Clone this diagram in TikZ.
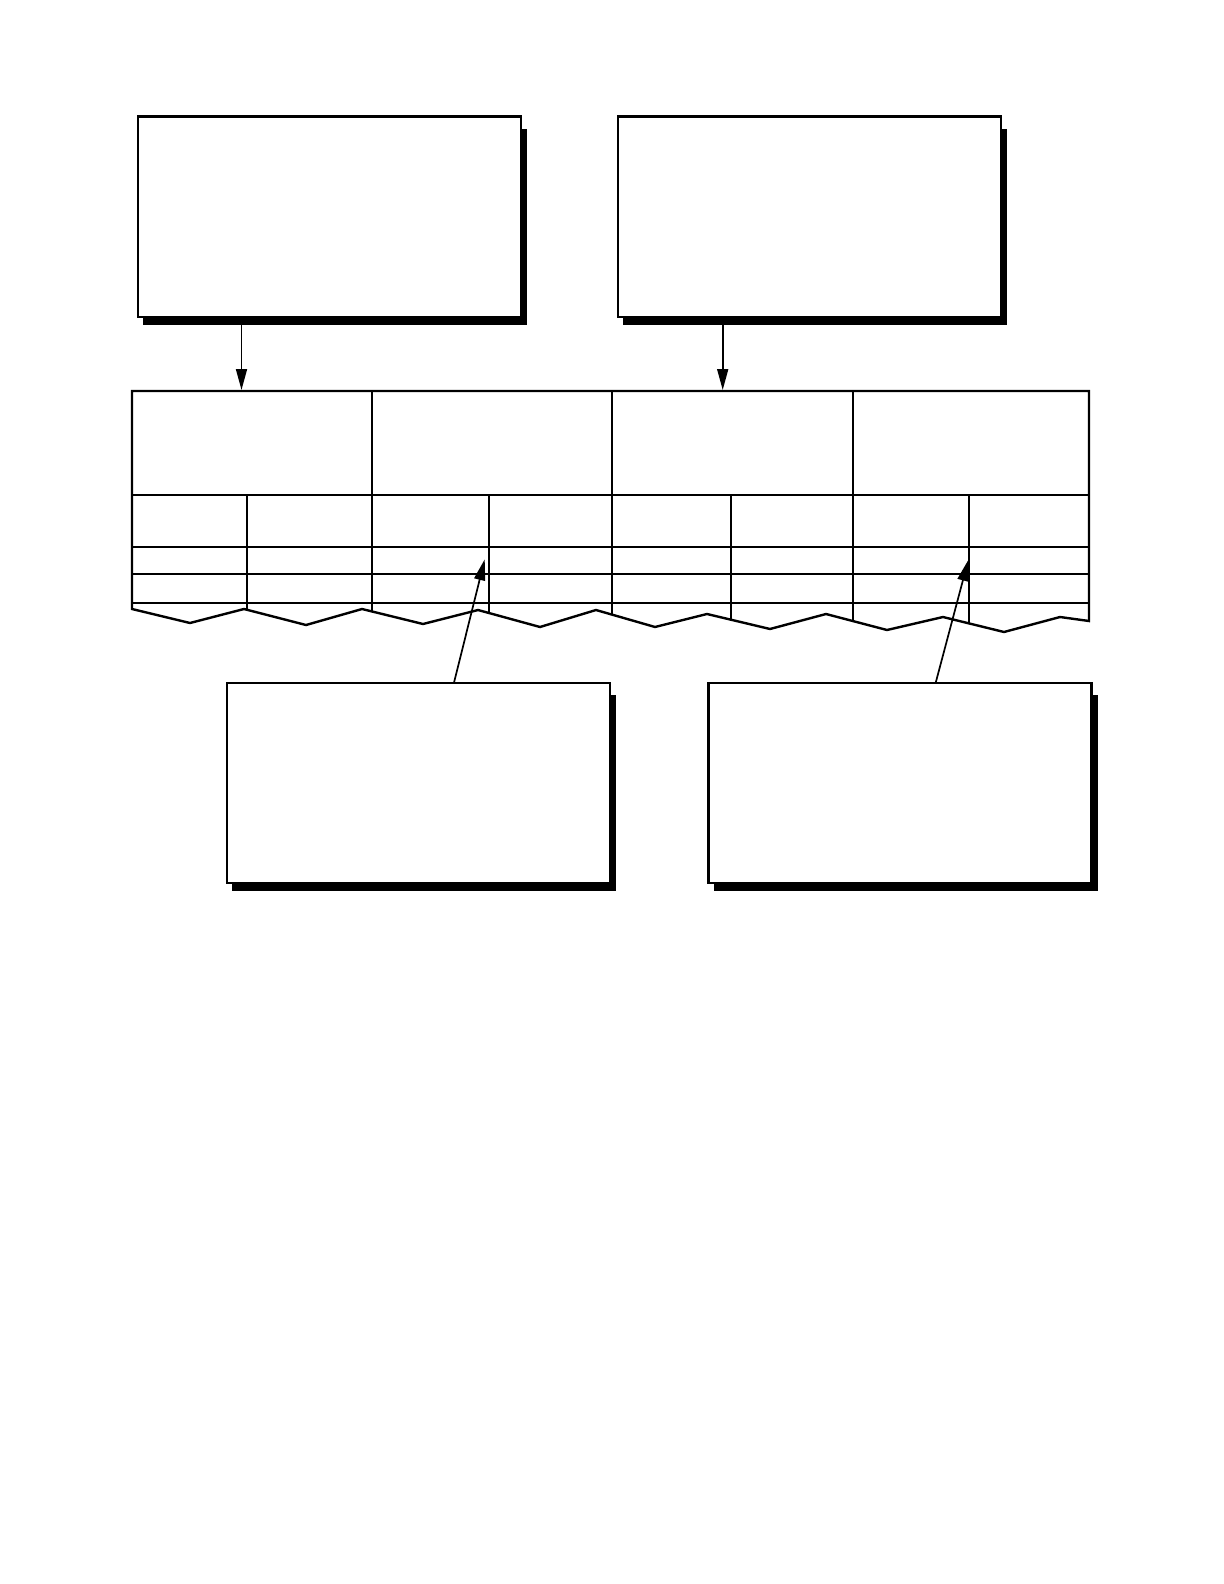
\documentclass[tikz,border=0pt]{standalone}
\usetikzlibrary{arrows.meta,backgrounds}
\begin{document}
\begin{tikzpicture}[x=0.5pt,y=-0.5pt,
  box/.style={draw=black,line width=1.2pt,fill=white,minimum width=191.5pt,minimum height=100pt,inner sep=0pt,outer sep=0pt,anchor=north west},
  shade/.style={fill=black},
  arr/.style={line width=0.85pt,-{Triangle[length=10.5pt,width=5.5pt]}},
  border/.style={line width=1.2pt,line join=miter},
  thinline/.style={line width=0.7pt},
  thickline/.style={line width=1.2pt}]
\useasboundingbox (0,0) rectangle (1224,1584);

% boxes
\node[box] (b1) at (137.7,116.7) {};
\node[box] (b2) at (618,116.7) {};
\node[box] (b3) at (227,682.7) {};
\node[box] (b4) at (708.5,682.7) {};

\begin{scope}[on background layer]
\foreach \b in {b1,b2,b3,b4}{
  \fill[shade] ([xshift=2.5pt,yshift=-4pt]\b.south west) rectangle ([xshift=3pt,yshift=-6pt]\b.north east);
}
\end{scope}

% table
\begin{scope}
\clip (132,391) -- (1089,391) -- (1089,621) -- (1060,617) -- (1004,632) -- (943,617) -- (887,630) -- (826,614) -- (770,629) -- (707,614) -- (655,627) -- (596,610) -- (540,627) -- (478,610) -- (423,624) -- (362,609) -- (306,625) -- (244,609) -- (190,623) -- (132,609) -- cycle;
\draw[thinline] (132,495) -- (1089,495);
\draw[thickline] (132,547) -- (1089,547);
\draw[thinline] (132,574) -- (1089,574);
\draw[thinline] (132,603) -- (1089,603);
\foreach \x in {372,612,853}{\draw[thinline] (\x,391) -- (\x,700);}
\foreach \x in {247,489,731,969}{\draw[thinline] (\x,495) -- (\x,700);}
\end{scope}
\draw[border] (132,609) -- (132,391) -- (1089,391) -- (1089,621) -- (1060,617) -- (1004,632) -- (943,617) -- (887,630) -- (826,614) -- (770,629) -- (707,614) -- (655,627) -- (596,610) -- (540,627) -- (478,610) -- (423,624) -- (362,609) -- (306,625) -- (244,609) -- (190,623) -- cycle;

% arrows
\coordinate (t1) at (241.5,390);
\coordinate (t2) at (722.7,390);
\coordinate (t3) at (484.7,559.3);
\coordinate (t4) at (968.3,560);
\coordinate (s3) at (454,682.7);
\coordinate (s4) at (935.7,682.7);
\draw[arr] (b1.south -| t1) -- (t1);
\draw[arr] (b2.south -| t2) -- (t2);
\draw[arr] (s3) -- (t3);
\draw[arr] (s4) -- (t4);
\end{tikzpicture}
\end{document}
